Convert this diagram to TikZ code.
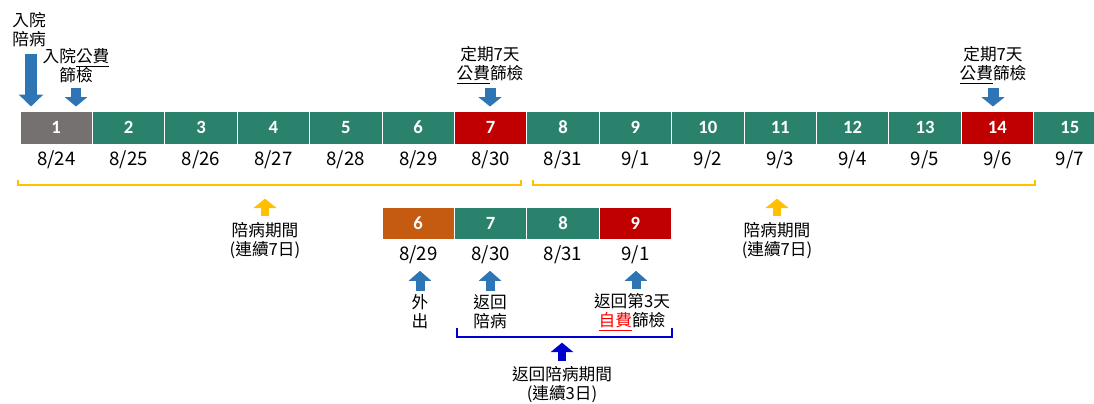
\documentclass[tikz,border=0pt]{standalone}
\usepackage{xcolor}
\usepackage{fontspec}
\setmainfont{Noto Sans CJK TC}
\newfontfamily\numfont{Carlito}
\usepackage{tikz}
\usetikzlibrary{arrows.meta}

\definecolor{daygreen}{HTML}{2A826D}
\definecolor{dayred}{HTML}{C00000}
\definecolor{daygray}{HTML}{767171}
\definecolor{dayorange}{HTML}{C55A11}
\definecolor{arrowblue}{HTML}{2E75B6}
\definecolor{braceyellow}{HTML}{FFC000}
\definecolor{bracenavy}{HTML}{0000CC}
\definecolor{selfred}{HTML}{FF0000}

\begin{document}
\begin{tikzpicture}[x=0.75pt,y=-0.75pt,
	daybox/.style={draw=white, line width=0.75pt, minimum width=54.3pt, minimum height=24.75pt, inner sep=0pt, text=white, font=\numfont\bfseries\fontsize{14}{14}\selectfont},
	datetext/.style={font=\fontsize{14}{14}\selectfont},
	note/.style={align=center, inner sep=0pt, font=\fontsize{12.5}{14.3}\selectfont},
	blockarrow/.style n args={3}{line width=#1, -{Triangle[width=#2, length=#3]}},
	bracket/.style={line width=1.5pt}]
%0. 画布大小
\useasboundingbox (0,0) rectangle (1094,403);
\clip (0,0) rectangle (1094,403);
%1. 上面一排日子
\foreach \n/\c in
	{1/daygray,2/daygreen,3/daygreen,4/daygreen,5/daygreen,6/daygreen,7/dayred,8/daygreen,
	9/daygreen,10/daygreen,11/daygreen,12/daygreen,13/daygreen,14/dayred,15/daygreen}
	{\node[daybox, fill=\c] (d\n) at ({56.2+72.4*(\n-1)}, 127.5) {\n};}
\foreach \n/\m/\d in
	{1/8/24,2/8/25,3/8/26,4/8/27,5/8/28,6/8/29,7/8/30,8/8/31,
	9/9/1,10/9/2,11/9/3,12/9/4,13/9/5,14/9/6,15/9/7}
	{\node[datetext] (t\n) at ({56.2+72.4*(\n-1)}, 160) {\m/\d};}
%2. 下面一排日子
\foreach \n/\c/\m/\d in
	{6/dayorange/8/29,7/daygreen/8/30,8/daygreen/8/31,9/dayred/9/1}
	{\node[daybox, fill=\c, minimum height=24pt] (e\n) at ({56.2+72.4*(\n-1)}, 223) {\n};
	\node[datetext] (s\n) at ({56.2+72.4*(\n-1)}, 255) {\m/\d};}
%3. 上面的说明和箭头
\node[note] (in1) at (29,30) {入院\\陪病};
\node[note] (in2) at (76,66) {入院\underline{公費}\\篩檢};
\node[note] (chk7) at (490,65) {定期7天\\\underline{公費}篩檢};
\node[note] (chk14) at (993,65) {定期7天\\\underline{公費}篩檢};
\draw[arrowblue, blockarrow={9pt}{18pt}{9pt}, shorten <=5pt, shorten >=3pt] ([xshift=1.5pt]in1.south) -- ([xshift=1.5pt]in1.south |- d1.north);
\draw[arrowblue, blockarrow={7.5pt}{16.5pt}{7pt}, shorten <=3pt, shorten >=3pt] (in2.south) -- (in2.south |- d1.north);
\draw[arrowblue, blockarrow={8.25pt}{17pt}{7pt}, shorten <=3pt, shorten >=3pt] (chk7.south) -- (chk7.south |- d7.north);
\draw[arrowblue, blockarrow={8.25pt}{17pt}{7pt}, shorten <=3pt, shorten >=3pt] (chk14.south) -- (chk14.south |- d14.north);
%4. 黄色的括号
\coordinate (ya) at (18,180);
\coordinate (yb) at (521,180);
\coordinate (yc) at (533,180);
\coordinate (yd) at (1035,180);
\draw[braceyellow, bracket] (ya) -- ++(0,5) -| (yb);
\draw[braceyellow, bracket] (yc) -- ++(0,5) -| (yd);
\node[note] (stay1) at (265,241) {陪病期間\\(連續7日)};
\node[note] (stay2) at (777,241) {陪病期間\\(連續7日)};
\draw[braceyellow, blockarrow={6pt}{17pt}{7pt}, shorten <=5pt, shorten >=14pt] (stay1.north) -- (stay1.north |- ya);
\draw[braceyellow, blockarrow={6pt}{17pt}{7pt}, shorten <=5pt, shorten >=14pt] (stay2.north) -- (stay2.north |- yc);
%5. 下面的说明
\node[note] (out) at (420,312) {外\\出};
\node[note] (back) at (490,312) {返回\\陪病};
\node[note] (self) at (632,312) {返回第3天\\\textcolor{selfred}{\underline{自費}}篩檢};
\draw[arrowblue, blockarrow={6.75pt}{16.5pt}{7.5pt}, shorten <=3pt, shorten >=1.5pt] (out.north) -- (out.north |- s6.south);
\draw[arrowblue, blockarrow={6.75pt}{16.5pt}{7.5pt}, shorten <=3pt, shorten >=1.5pt] (back.north) -- (back.north |- s7.south);
\draw[arrowblue, blockarrow={6.75pt}{16.5pt}{7.5pt}, shorten <=3pt, shorten >=1.5pt] ([xshift=3pt]self.north) -- ([xshift=3pt]self.north |- s9.south);
%6. 蓝色的括号
\coordinate (ba) at (457,328);
\coordinate (bb) at (672,328);
\draw[bracenavy, bracket] (ba) -- ++(0,9) -| (bb);
\node[note] (stay3) at (562,385) {返回陪病期間\\(連續3日)};
\draw[bracenavy, blockarrow={6pt}{16.5pt}{7pt}, shorten <=4pt, shorten >=11pt] (stay3.north) -- (stay3.north |- ba);
\end{tikzpicture}
\end{document}
